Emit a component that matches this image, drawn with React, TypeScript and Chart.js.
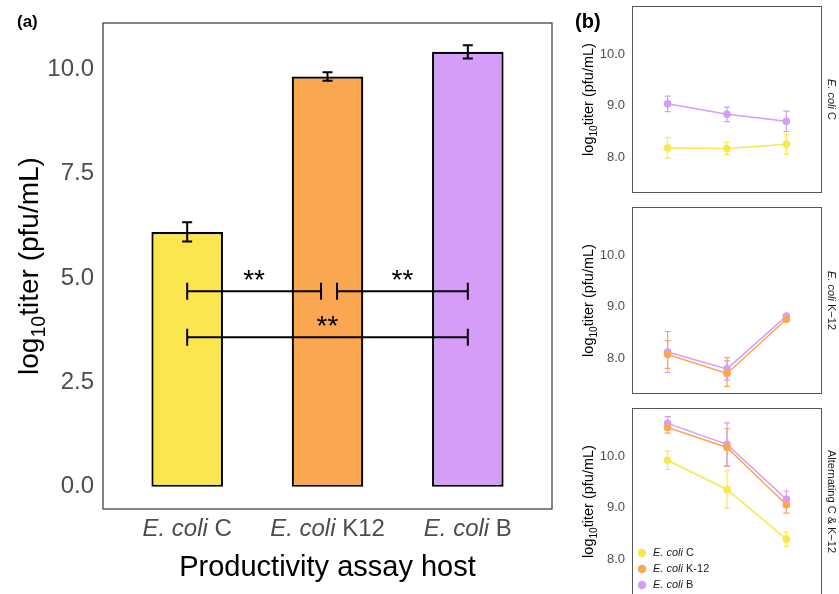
import React, { useEffect, useRef } from "react";
import { Chart, registerables } from "chart.js";

Chart.register(...registerables);

// ---------- Panel (a) data ----------
const HOSTS = ["E. coli C", "E. coli K12", "E. coli B"];
const HOST_POS = [1, 2, 3];
const HOST_COLORS = ["#FCE64F", "#FBA650", "#D69DF8"];
const BAR_TITER = [6.1, 9.82, 10.41];
const BAR_SE = [0.23, 0.1, 0.16];
const A_Y_TICKS = [0, 2.5, 5, 7.5, 10];
const SIG_FROM = [1, 2.068, 1];
const SIG_TO = [1.954, 3, 3];
const SIG_LEVEL = [4.68, 4.68, 3.58];
const SIG_LABEL = ["**", "**", "**"];

// ---------- Panel (b) data ----------
const PASSAGES = [1, 2, 3];
const B_Y_TICKS = [8, 9, 10];
const FACET_LABELS = ["E. coli C", "E. coli K\u221212", "Alternating C & K\u221212"];
const LEGEND_LABELS = ["E. coli C", "E. coli K-12", "E. coli B"];

// facet 1: E. coli C
const F1_C = [8.18, 8.17, 8.25];
const F1_C_ERR = [0.2, 0.12, 0.19];
const F1_B = [9.04, 8.835, 8.7];
const F1_B_ERR = [0.15, 0.14, 0.2];
// facet 2: E. coli K-12
const F2_K12 = [8.07, 7.7, 8.76];
const F2_K12_ERR = [0.27, 0.25, 0.03];
const F2_B = [8.12, 7.79, 8.82];
const F2_B_ERR = [0.4, 0.22, 0.03];
// facet 3: Alternating C & K-12
const F3_C = [9.93, 9.36, 8.39];
const F3_C_ERR = [0.18, 0.36, 0.14];
const F3_K12 = [10.57, 10.18, 9.06];
const F3_K12_ERR = [0.11, 0.37, 0.16];
const F3_B = [10.65, 10.24, 9.17];
const F3_B_ERR = [0.13, 0.42, 0.16];

const FONT = '"Liberation Sans", Arial, Helvetica, sans-serif';
const TICK_GRAY = "#4D4D4D";

type Part = [string, boolean];
function splitItalic(s: string): Part[] {
  if (s.startsWith("E. coli")) return [["E. coli", true], [s.slice(7), false]];
  return [[s, false]];
}
function fontOf(size: number, italic: boolean, bold = false) {
  return `${italic ? "italic " : ""}${bold ? "bold " : ""}${size}px ${FONT}`;
}
function measureParts(ctx: CanvasRenderingContext2D, parts: Part[], size: number) {
  let w = 0;
  for (const [t, it] of parts) {
    ctx.font = fontOf(size, it);
    w += ctx.measureText(t).width;
  }
  return w;
}
function drawParts(ctx: CanvasRenderingContext2D, parts: Part[], size: number, x: number, y: number) {
  let cx = x;
  ctx.textAlign = "left";
  for (const [t, it] of parts) {
    ctx.font = fontOf(size, it);
    ctx.fillText(t, cx, y);
    cx += ctx.measureText(t).width;
  }
}
function drawYTitle(ctx: CanvasRenderingContext2D, baselineX: number, cy: number, size: number, color: string) {
  ctx.save();
  ctx.translate(baselineX, cy);
  ctx.rotate(-Math.PI / 2);
  ctx.fillStyle = color;
  ctx.textBaseline = "alphabetic";
  ctx.textAlign = "left";
  const segs: [string, number, number][] = [
    ["log", size, 0],
    ["10", size * 0.7, size * 0.25],
    ["titer (pfu/mL)", size, 0],
  ];
  let total = 0;
  for (const [t, s] of segs) {
    ctx.font = fontOf(s, false);
    total += ctx.measureText(t).width;
  }
  let x = -total / 2;
  for (const [t, s, dy] of segs) {
    ctx.font = fontOf(s, false);
    ctx.fillText(t, x, dy);
    x += ctx.measureText(t).width;
  }
  ctx.restore();
}
function errorBar(ctx: CanvasRenderingContext2D, x: number, yTop: number, yBot: number, cap: number) {
  ctx.beginPath();
  ctx.moveTo(x, yTop);
  ctx.lineTo(x, yBot);
  ctx.moveTo(x - cap, yTop);
  ctx.lineTo(x + cap, yTop);
  ctx.moveTo(x - cap, yBot);
  ctx.lineTo(x + cap, yBot);
  ctx.stroke();
}
function zeroPad(s: any) {
  s.paddingTop = 0;
  s.paddingBottom = 0;
  s.paddingLeft = 0;
  s.paddingRight = 0;
}

function makePanelA(canvas: HTMLCanvasElement) {
  const plugin = {
    id: "panelA",
    afterDatasetsDraw(chart: any) {
      const ctx: CanvasRenderingContext2D = chart.ctx;
      const xs = chart.scales.x;
      const ys = chart.scales.y;
      const meta = chart.getDatasetMeta(0);
      ctx.save();
      ctx.strokeStyle = "#000";
      ctx.lineWidth = 2;
      meta.data.forEach((el: any, i: number) => {
        const v = BAR_TITER[i];
        const e = BAR_SE[i];
        errorBar(ctx, el.x, ys.getPixelForValue(v + e), ys.getPixelForValue(v - e), 5);
      });
      for (let i = 0; i < SIG_FROM.length; i++) {
        const x1 = xs.getPixelForValue(SIG_FROM[i]);
        const x2 = xs.getPixelForValue(SIG_TO[i]);
        const y = ys.getPixelForValue(SIG_LEVEL[i]);
        ctx.beginPath();
        ctx.moveTo(x1, y);
        ctx.lineTo(x2, y);
        ctx.moveTo(x1, y - 8.5);
        ctx.lineTo(x1, y + 8.5);
        ctx.moveTo(x2, y - 8.5);
        ctx.lineTo(x2, y + 8.5);
        ctx.stroke();
        ctx.fillStyle = "#000";
        ctx.font = fontOf(28, false);
        ctx.textAlign = "center";
        ctx.textBaseline = "alphabetic";
        ctx.fillText(SIG_LABEL[i], (x1 + x2) / 2, y - 2);
      }
      ctx.restore();
    },
    afterDraw(chart: any) {
      const ctx: CanvasRenderingContext2D = chart.ctx;
      const a = chart.chartArea;
      const xs = chart.scales.x;
      ctx.save();
      ctx.strokeStyle = "#444";
      ctx.lineWidth = 1.3;
      ctx.strokeRect(a.left, a.top, a.right - a.left, a.bottom - a.top);
      ctx.fillStyle = TICK_GRAY;
      ctx.textBaseline = "alphabetic";
      HOSTS.forEach((h, i) => {
        const parts = splitItalic(h);
        const w = measureParts(ctx, parts, 24);
        const cx = xs.getPixelForValue(HOST_POS[i]);
        drawParts(ctx, parts, 24, cx - w / 2, a.bottom + 27);
      });
      ctx.fillStyle = "#000";
      ctx.font = fontOf(29, false);
      ctx.textAlign = "center";
      ctx.fillText("Productivity assay host", (a.left + a.right) / 2, a.bottom + 67);
      drawYTitle(ctx, 38, (a.top + a.bottom) / 2, 28, "#000");
      ctx.fillStyle = "#000";
      ctx.font = fontOf(17, false, true);
      ctx.textAlign = "left";
      ctx.fillText("(a)", 17, 27);
      ctx.restore();
    },
  };
  return new Chart(canvas, {
    type: "bar",
    data: {
      datasets: [
        {
          data: BAR_TITER.map((v, i) => ({ x: HOST_POS[i], y: v })),
          backgroundColor: HOST_COLORS,
          borderColor: "#000",
          borderWidth: 2.2,
          borderSkipped: false,
          barPercentage: 0.51,
          categoryPercentage: 1,
        } as any,
      ],
    },
    options: {
      animation: false,
      responsive: false,
      layout: { padding: { top: 23, right: 8, left: 0, bottom: 0 } },
      plugins: { legend: { display: false }, tooltip: { enabled: false } },
      scales: {
        x: {
          type: "linear",
          offset: false,
          min: 0.4,
          max: 3.6,
          grid: { display: false, drawTicks: false, offset: false },
          border: { display: false },
          ticks: { display: false },
          afterBuildTicks: (s: any) => {
            s.ticks = HOST_POS.map((v) => ({ value: v }));
          },
          afterFit: (s: any) => {
            s.height = 85;
            zeroPad(s);
          },
        },
        y: {
          type: "linear",
          min: -0.53,
          max: 11.1,
          grid: { display: false, drawTicks: false },
          border: { display: false },
          ticks: {
            color: TICK_GRAY,
            font: { family: FONT, size: 24 },
            padding: 9,
            callback: (v: any) => Number(v).toFixed(1),
          },
          afterBuildTicks: (s: any) => {
            s.ticks = A_Y_TICKS.map((v) => ({ value: v }));
          },
          afterFit: (s: any) => {
            s.width = 103;
            zeroPad(s);
          },
        },
      },
    } as any,
    plugins: [plugin],
  });
}

type Series = { color: string; values: number[]; errs: number[] };
const FACET_SERIES: Series[][] = [
  [
    { color: HOST_COLORS[0], values: F1_C, errs: F1_C_ERR },
    { color: HOST_COLORS[2], values: F1_B, errs: F1_B_ERR },
  ],
  [
    { color: HOST_COLORS[1], values: F2_K12, errs: F2_K12_ERR },
    { color: HOST_COLORS[2], values: F2_B, errs: F2_B_ERR },
  ],
  [
    { color: HOST_COLORS[0], values: F3_C, errs: F3_C_ERR },
    { color: HOST_COLORS[1], values: F3_K12, errs: F3_K12_ERR },
    { color: HOST_COLORS[2], values: F3_B, errs: F3_B_ERR },
  ],
];
const FACET_CANVAS_TOP = [0, 200, 401];
const FACET_PAD_TOP = [6, 7, 7];
const FACET_H = 200;
const FACET_AREA_H = 187;

function makeFacet(canvas: HTMLCanvasElement, k: number) {
  const series = FACET_SERIES[k];
  const plugin = {
    id: "facet" + k,
    beforeDatasetsDraw(chart: any) {
      const ctx: CanvasRenderingContext2D = chart.ctx;
      const ys = chart.scales.y;
      ctx.save();
      ctx.lineWidth = 1.2;
      series.forEach((s, di) => {
        const meta = chart.getDatasetMeta(di);
        ctx.strokeStyle = s.color;
        meta.data.forEach((pt: any, i: number) => {
          errorBar(ctx, pt.x, ys.getPixelForValue(s.values[i] + s.errs[i]), ys.getPixelForValue(s.values[i] - s.errs[i]), 3);
        });
      });
      ctx.restore();
    },
    afterDraw(chart: any) {
      const ctx: CanvasRenderingContext2D = chart.ctx;
      const a = chart.chartArea;
      ctx.save();
      ctx.strokeStyle = "#555";
      ctx.lineWidth = 1;
      ctx.strokeRect(a.left + 0.5, a.top + 0.5, a.right - a.left - 1, a.bottom - a.top - 1);
      drawYTitle(ctx, 33, (a.top + a.bottom) / 2, 14.5, "#000");
      ctx.save();
      ctx.translate(a.right + 9, (a.top + a.bottom) / 2);
      ctx.rotate(Math.PI / 2);
      ctx.fillStyle = "#1A1A1A";
      ctx.textBaseline = "middle";
      const parts = splitItalic(FACET_LABELS[k]);
      const w = measureParts(ctx, parts, 11);
      drawParts(ctx, parts, 11, -w / 2, 0);
      ctx.restore();
      if (k === 0) {
        ctx.fillStyle = "#000";
        ctx.font = fontOf(20, false, true);
        ctx.textAlign = "left";
        ctx.textBaseline = "alphabetic";
        ctx.fillText("(b)", 15, 28);
      }
      if (k === FACET_SERIES.length - 1) {
        const offs = [42, 26, 10];
        LEGEND_LABELS.forEach((lab, i) => {
          const y = a.bottom - offs[i];
          ctx.fillStyle = HOST_COLORS[i];
          ctx.beginPath();
          ctx.arc(a.left + 10, y, 4.2, 0, Math.PI * 2);
          ctx.fill();
          ctx.fillStyle = "#1A1A1A";
          ctx.textBaseline = "middle";
          drawParts(ctx, splitItalic(lab), 11, a.left + 21, y);
        });
      }
      ctx.restore();
    },
  };
  const padTop = FACET_PAD_TOP[k];
  return new Chart(canvas, {
    type: "line",
    data: {
      datasets: series.map((s) => ({
        data: PASSAGES.map((p, i) => ({ x: p, y: s.values[i] })),
        borderColor: s.color,
        backgroundColor: s.color,
        pointBackgroundColor: s.color,
        pointBorderColor: s.color,
        pointRadius: 3.8,
        pointBorderWidth: 0,
        borderWidth: 1.5,
        tension: 0,
      })),
    },
    options: {
      animation: false,
      responsive: false,
      layout: { padding: { top: padTop, right: 17, left: 0, bottom: 0 } },
      plugins: { legend: { display: false }, tooltip: { enabled: false } },
      scales: {
        x: {
          type: "linear",
          offset: false,
          min: 0.4,
          max: 3.6,
          grid: { display: false, drawTicks: false },
          border: { display: false },
          ticks: { display: false },
          afterBuildTicks: (s: any) => {
            s.ticks = PASSAGES.map((v) => ({ value: v }));
          },
          afterFit: (s: any) => {
            s.height = FACET_H - padTop - FACET_AREA_H;
            zeroPad(s);
          },
        },
        y: {
          type: "linear",
          min: 7.3,
          max: 10.95,
          grid: { display: false, drawTicks: false },
          border: { display: false },
          ticks: {
            color: TICK_GRAY,
            font: { family: FONT, size: 13 },
            padding: 7,
            callback: (v: any) => Number(v).toFixed(1),
          },
          afterBuildTicks: (s: any) => {
            s.ticks = B_Y_TICKS.map((v) => ({ value: v }));
          },
          afterFit: (s: any) => {
            s.width = 72;
            zeroPad(s);
          },
        },
      },
    } as any,
    plugins: [plugin],
  });
}

export default function App() {
  const aRef = useRef<HTMLCanvasElement>(null);
  const f0 = useRef<HTMLCanvasElement>(null);
  const f1 = useRef<HTMLCanvasElement>(null);
  const f2 = useRef<HTMLCanvasElement>(null);
  const fRefs = [f0, f1, f2];

  useEffect(() => {
    const charts: Chart[] = [];
    if (aRef.current) charts.push(makePanelA(aRef.current));
    fRefs.forEach((r, k) => {
      if (r.current) charts.push(makeFacet(r.current, k));
    });
    return () => charts.forEach((c) => c.destroy());
  }, []);

  return (
    <div
      style={{
        position: "fixed",
        left: 0,
        top: 0,
        width: 839,
        height: 594,
        overflow: "hidden",
        background: "#fff",
      }}
    >
      <canvas
        ref={aRef}
        width={560}
        height={594}
        style={{ position: "absolute", left: 0, top: 0, width: 560, height: 594 }}
      />
      {fRefs.map((r, k) => (
        <canvas
          key={k}
          ref={r}
          width={279}
          height={FACET_H}
          style={{ position: "absolute", left: 560, top: FACET_CANVAS_TOP[k], width: 279, height: FACET_H }}
        />
      ))}
    </div>
  );
}
